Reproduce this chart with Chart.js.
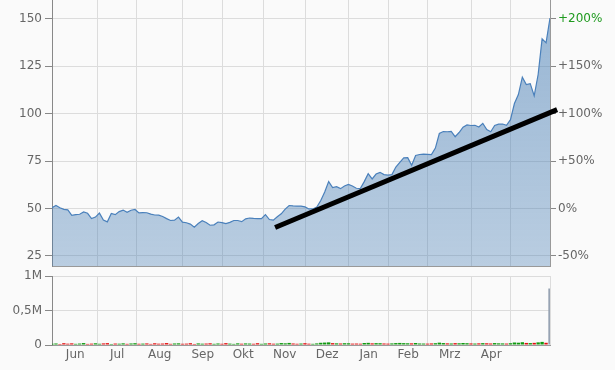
<!DOCTYPE html>
<html>
<head>
<meta charset="utf-8">
<script src="https://cdn.jsdelivr.net/npm/chart.js@4/dist/chart.umd.min.js"></script>
<style>
  html, body { margin: 0; padding: 0; background: #fafafa; }
  #wrap { position: relative; width: 615px; height: 370px; }
  #priceChart { position: absolute; left: 0; top: 0; }
  #volChart { position: absolute; left: 0; top: 268px; }
</style>
</head>
<body>
<div id="wrap">
  <canvas id="priceChart" width="615" height="268"></canvas>
  <canvas id="volChart" width="615" height="102"></canvas>
</div>
<script>
// closing prices, one value every second trading day (Jun .. May)
const prices = [
  50.4, 51.6, 50.4, 49.6, 49.3, 46.4, 46.8, 47.0, 48.2, 47.5,
  44.7, 45.5, 47.6, 44.0, 43.0, 47.4, 46.8, 48.4, 49.2, 48.0,
  49.1, 49.5, 47.7, 47.9, 47.8, 47.1, 46.6, 46.5, 45.8, 44.7,
  43.7, 43.9, 45.5, 42.8, 42.5, 41.8, 40.2, 42.1, 43.6, 42.6,
  41.2, 41.4, 42.9, 42.6, 42.1, 42.7, 43.7, 43.7, 43.1, 44.6,
  45.0, 44.8, 44.7, 44.7, 46.8, 44.2, 43.9, 45.7, 47.2, 49.7,
  51.6, 51.4, 51.3, 51.3, 50.9, 49.8, 49.8, 50.8, 54.2, 58.7,
  64.2, 61.1, 61.5, 60.5, 61.9, 62.7, 61.9, 60.7, 60.5, 64.2,
  68.4, 65.6, 68.2, 69.1, 67.9, 67.6, 67.9, 71.9, 74.4, 76.7,
  76.8, 72.8, 78.0, 78.5, 78.7, 78.6, 78.5, 81.9, 89.6, 90.6,
  90.5, 90.7, 87.9, 90.1, 92.9, 94.1, 93.8, 93.9, 93.0, 94.9,
  91.7, 90.5, 93.8, 94.5, 94.6, 93.9, 96.9, 105.4, 110.1, 119.3,
  115.4, 115.9, 109.5, 120.7, 139.5, 137.4, 150.5
];
const volumes = [
  18000, 22000, 15000, 26000, 19000, 24000, 17000, 21000, 28000, 16000,
  20000, 25000, 18000, 23000, 27000, 15000, 21000, 19000, 24000, 17000,
  22000, 26000, 18000, 20000, 23000, 16000, 25000, 19000, 21000, 28000,
  17000, 22000, 24000, 18000, 20000, 26000, 15000, 23000, 19000, 21000,
  25000, 17000, 22000, 18000, 27000, 20000, 16000, 24000, 19000, 23000,
  21000, 18000, 26000, 17000, 22000, 25000, 19000, 20000, 28000, 24000,
  30000, 22000, 18000, 21000, 26000, 19000, 17000, 23000, 32000, 35000,
  38000, 27000, 24000, 22000, 26000, 25000, 20000, 21000, 19000, 29000,
  31000, 24000, 27000, 26000, 22000, 20000, 23000, 28000, 30000, 27000,
  25000, 24000, 29000, 22000, 21000, 20000, 23000, 26000, 34000, 28000,
  24000, 22000, 27000, 25000, 29000, 26000, 23000, 21000, 24000, 27000,
  25000, 22000, 28000, 24000, 23000, 21000, 26000, 36000, 33000, 40000,
  30000, 28000, 31000, 38000, 45000, 32000, 820000
];
const dayStep = 2;
const lastDay = 252;
// month boundaries in trading days, month names
const monthStarts = [0.5, 23, 43, 66, 86.5, 107, 128.5, 150, 170.5, 190, 212.5, 232];
const months = ['Jun', 'Jul', 'Aug', 'Sep', 'Okt', 'Nov', 'Dez', 'Jan', 'Feb', 'Mrz', 'Apr'];
// trend line end points (trading day, price)
const trendDays = [112.9, 255.6];
const trendValues = [40.0, 102.2];
const priceTicks = [25, 50, 75, 100, 125, 150];
const basePrice = 50;
const volTicks = [0, 500000, 1000000];

Chart.defaults.font.family = "'DejaVu Sans', Verdana, sans-serif";
Chart.defaults.font.size = 12;
Chart.defaults.color = '#666';

const days = prices.map((_, i) => i * dayStep);
const gridDays = monthStarts.concat([lastDay]);
const centers = months.map((m, i) => (monthStarts[i] + monthStarts[i + 1]) / 2);

const fixY = w => s => { s.width = w; s.paddingTop = 0; s.paddingBottom = 0; };

new Chart(document.getElementById('priceChart'), {
  type: 'line',
  data: {
    datasets: [{
      // trend line, drawn on top
      data: trendDays.map((d, i) => ({ x: d, y: trendValues[i] })),
      borderColor: '#000',
      borderWidth: 5,
      pointRadius: 0,
      fill: false,
      clip: false,
      order: 0
    }, {
      data: prices.map((p, i) => ({ x: days[i], y: p })),
      borderColor: '#4a80bb',
      borderWidth: 1.2,
      pointRadius: 0,
      fill: 'start',
      order: 1,
      backgroundColor: ctx => {
        const area = ctx.chart.chartArea;
        if (!area) return 'rgba(70,125,180,0.4)';
        const g = ctx.chart.ctx.createLinearGradient(0, area.top, 0, area.bottom);
        g.addColorStop(0, 'rgba(70,125,180,0.55)');
        g.addColorStop(1, 'rgba(70,125,180,0.36)');
        return g;
      }
    }]
  },
  options: {
    responsive: false,
    animation: false,
    events: [],
    plugins: { legend: { display: false }, tooltip: { enabled: false } },
    layout: { padding: 0 },
    scales: {
      x: {
        type: 'linear', min: 0, max: lastDay,
        afterBuildTicks: s => { s.ticks = gridDays.map(v => ({ value: v })); },
        afterFit: s => { s.height = 2; s.paddingLeft = 0; s.paddingRight = 0; },
        ticks: { display: false },
        grid: { color: '#dcdcdc', drawTicks: false },
        border: { color: '#999' }
      },
      y: {
        position: 'left', min: 19.7, max: 160,
        afterBuildTicks: s => { s.ticks = priceTicks.map(v => ({ value: v })); },
        afterFit: fixY(52),
        ticks: { padding: 3 },
        grid: { color: '#dcdcdc', tickLength: 7, tickColor: '#888' },
        border: { color: '#888' }
      },
      y2: {
        position: 'right', min: 19.7, max: 160,
        afterBuildTicks: s => { s.ticks = priceTicks.map(v => ({ value: v })); },
        afterFit: fixY(65),
        ticks: {
          padding: 2,
          color: c => c.tick && c.tick.value === 150 ? '#1f9a1f' : '#666',
          callback: v => {
            const p = Math.round((v / basePrice - 1) * 100);
            return (p > 0 ? '+' : '') + p + '%';
          }
        },
        grid: { drawOnChartArea: false, tickLength: 6, tickColor: '#888' },
        border: { color: '#999' }
      }
    }
  }
});

const volTickDays = gridDays.concat(centers).sort((a, b) => a - b);

new Chart(document.getElementById('volChart'), {
  type: 'bar',
  data: {
    datasets: [{
      data: volumes.map((v, i) => ({ x: days[i], y: v })),
      backgroundColor: volumes.map((v, i) => {
        if (i === volumes.length - 1) return '#97a3b3';
        return i > 0 && prices[i] < prices[i - 1] ? '#e31010' : '#119911';
      }),
      barPercentage: 0.85,
      categoryPercentage: 1
    }]
  },
  options: {
    responsive: false,
    animation: false,
    events: [],
    plugins: { legend: { display: false }, tooltip: { enabled: false } },
    layout: { padding: { top: 8, right: 65 } },
    scales: {
      x: {
        type: 'linear', min: 0, max: lastDay, offset: false,
        afterBuildTicks: s => { s.ticks = volTickDays.map(v => ({ value: v })); },
        afterFit: s => { s.height = 25; s.paddingLeft = 0; s.paddingRight = 0; },
        ticks: {
          autoSkip: false, maxRotation: 0, padding: 3,
          callback: v => {
            const i = centers.indexOf(v);
            return i >= 0 ? months[i] : '';
          }
        },
        grid: {
          offset: false, drawTicks: false,
          color: c => c.tick && gridDays.includes(c.tick.value) ? '#dcdcdc' : 'rgba(0,0,0,0)'
        },
        border: { color: '#999' }
      },
      y: {
        min: 0, max: 1000000,
        afterBuildTicks: s => { s.ticks = volTicks.map(v => ({ value: v })); },
        afterFit: fixY(52),
        ticks: {
          padding: 3,
          callback: v => v === 0 ? '0' : (v === 500000 ? '0,5M' : '1M')
        },
        grid: { color: '#dcdcdc', tickLength: 7, tickColor: '#888' },
        border: { color: '#888' }
      }
    }
  }
});
</script>
</body>
</html>
